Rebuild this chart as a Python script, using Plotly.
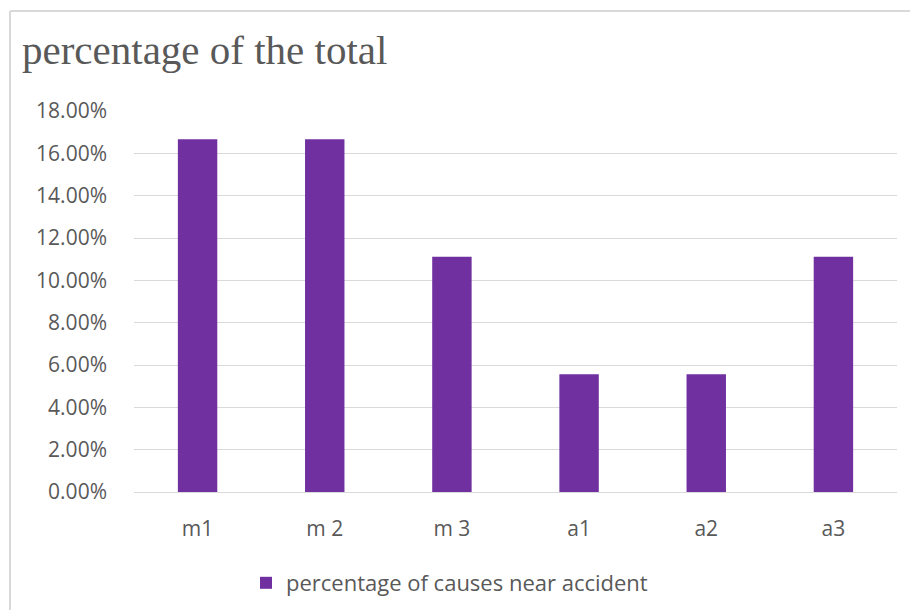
import plotly.graph_objects as go

# Share of near-accident causes per category
categories = ["m1", "m 2", "m 3", "a1", "a2", "a3"]
shares = [0.1667, 0.1667, 0.1111, 0.0556, 0.0556, 0.1111]
series_name = "percentage of causes near accident"
y_ticks = [0.00, 0.02, 0.04, 0.06, 0.08, 0.10, 0.12, 0.14, 0.16, 0.18]

W, H = 910, 610
L, R, T, B = 134, 13, 111, 118
plot_w = W - L - R
plot_h = H - T - B


def px_x(px):
    return (px - L) / plot_w


def px_y(py):
    return (H - B - py) / plot_h


TEXT_GREY = "#595959"
GRID = "#d9d9d9"
PURPLE = "#7030A0"
SANS = "Open Sans"

fig = go.Figure()
fig.add_trace(go.Bar(
    x=categories,
    y=shares,
    name=series_name,
    marker=dict(color=PURPLE, line=dict(width=0)),
    showlegend=True,
))

fig.update_layout(
    width=W,
    height=H,
    margin=dict(l=L, r=R, t=T, b=B, pad=0, autoexpand=False),
    paper_bgcolor="white",
    plot_bgcolor="white",
    bargap=0.69,
    title=dict(
        text="percentage of the total",
        font=dict(family="Liberation Serif", size=41, color=TEXT_GREY),
        x=22 / W,
        xanchor="left",
        xref="container",
        y=1 - 50 / H,
        yanchor="middle",
        yref="container",
    ),
    xaxis=dict(
        automargin=False,
        showgrid=False,
        showline=False,
        ticks="",
        tickfont=dict(family=SANS, size=21, color=TEXT_GREY),
        ticklabelstandoff=22,
    ),
    yaxis=dict(
        automargin=False,
        range=[0, 0.18],
        tickvals=y_ticks,
        tickformat=".2%",
        showgrid=True,
        gridcolor=GRID,
        gridwidth=1,
        zeroline=True,
        zerolinecolor=GRID,
        zerolinewidth=1,
        showline=False,
        ticks="",
        ticklabelstandoff=26,
        tickfont=dict(family=SANS, size=21, color=TEXT_GREY),
    ),
    legend=dict(
        orientation="h",
        x=px_x(246),
        xanchor="left",
        y=px_y(583),
        yanchor="middle",
        font=dict(family=SANS, size=22, color=TEXT_GREY),
        bgcolor="rgba(0,0,0,0)",
    ),
    shapes=[
        # chart frame: top and left edges
        dict(type="line", xref="paper", yref="paper",
             x0=px_x(10), x1=px_x(912), y0=px_y(11), y1=px_y(11),
             line=dict(color=GRID, width=2)),
        dict(type="line", xref="paper", yref="paper",
             x0=px_x(10), x1=px_x(10), y0=px_y(11), y1=px_y(612),
             line=dict(color=GRID, width=2)),
    ],
)

fig.write_html("out.html")
